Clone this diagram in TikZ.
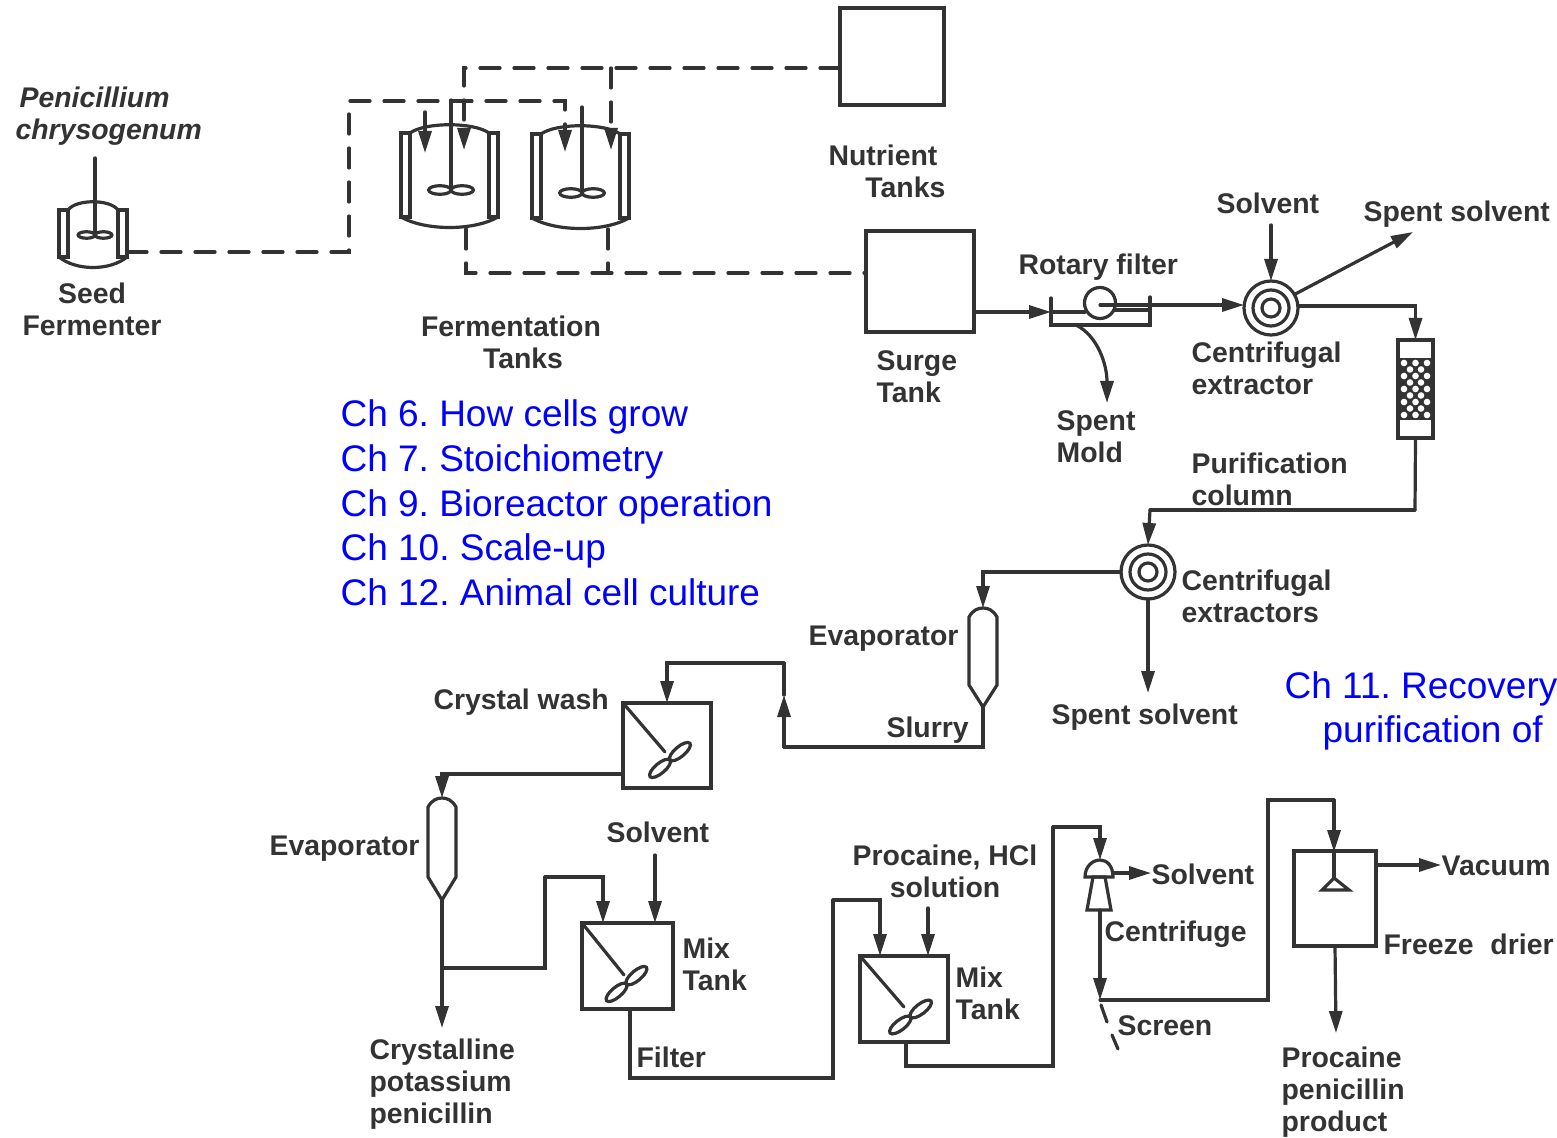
\documentclass[tikz,border=0pt]{standalone}
\usepackage{fontspec}
\setmainfont{Liberation Sans}
\usetikzlibrary{arrows.meta}
\definecolor{ink}{HTML}{333333}
\tikzset{
  lab/.style={font=\fontsize{14.2}{16}\selectfont\bfseries, text=ink, inner sep=0pt, anchor=west, align=left},
  chap/.style={font=\fontsize{18.5}{22.35}\selectfont, text=blue, inner sep=0pt, anchor=west, align=left},
  tankbox/.style={draw=ink, rectangle, outer sep=0pt, inner sep=0pt},
  ring/.style={draw=ink, circle, outer sep=0pt, inner sep=0pt, minimum size=27pt},
  flow/.style={-{Triangle[length=11pt,width=6.5pt]}},
  dashline/.style={dash pattern=on 10pt off 7pt},
  propeller/.pic={
    \draw (-13,0) ellipse [x radius=13, y radius=5];
    \draw (13,0) ellipse [x radius=13, y radius=5];
  }
}
% jacketed vessel: centre x, top, bottom, half width
\newcommand{\fermenter}[4]{
  \draw (#1-#4,#2) rectangle (#1-#4+9,#3);
  \draw (#1+#4-9,#2) rectangle (#1+#4,#3);
  \draw (#1-#4+9,#2) .. controls (#1-#4/2,#2-11) and (#1+#4/2,#2-11) .. (#1+#4-9,#2);
  \draw (#1-#4,#3) .. controls (#1-#4/2,#3+14) and (#1+#4/2,#3+14) .. (#1+#4,#3);
}
% evaporator outline: centre x, top, end of wall, tip
\newcommand{\evaporator}[4]{
  \draw (#1-14,#2+9) .. controls (#1-10,#2+2) and (#1-5,#2) .. (#1,#2)
     .. controls (#1+5,#2) and (#1+10,#2+2) .. (#1+14,#2+9)
     -- (#1+14,#3) -- (#1,#4) -- (#1-14,#3) -- cycle;
}
\frenchspacing
\begin{document}
\begin{tikzpicture}[x=0.5pt, y=-0.5pt, line width=1.6pt, line cap=round, draw=ink]
  \useasboundingbox (0,0) rectangle (1557,1138);

  % seed and fermentation vessels
  \fermenter{93}{210}{257}{34}
  \fermenter{449.5}{133}{217}{48.5}
  \fermenter{580.5}{134}{218}{48.5}
  \coordinate (seedtop) at (95,158);
  \coordinate (seedimp) at (95,235);
  \coordinate (seedout) at (127,252);
  \coordinate (tankashaft) at (451,100);
  \coordinate (tankaimp) at (451,190);
  \coordinate (tankbshaft) at (582,107);
  \coordinate (tankbimp) at (582,193);
  \draw (seedtop) -- (seedimp);
  \draw (tankashaft) -- (tankaimp);
  \draw (tankbshaft) -- (tankbimp);
  \pic[scale=.65] at (seedimp) {propeller};
  \pic[scale=.86] at (tankaimp) {propeller};
  \pic[scale=.86] at (tankbimp) {propeller};
  \coordinate (tankain) at (425,112);
  \coordinate (tankaintip) at (425,153);
  \draw[flow] (tankain) -- (tankaintip);

  % nutrient and surge tanks
  \node[tankbox, minimum width=52pt, minimum height=48.5pt] (nutrient) at (892,56.5) {};
  \node[tankbox, minimum width=54pt, minimum height=50.5pt] (surge) at (920,281.5) {};

  % dashed feed lines
  \coordinate (seedturn) at (349,252);
  \coordinate (feedturn) at (349,101);
  \coordinate (feedtip) at (565,152);
  \draw[dashline, flow] (seedout) -- (seedturn) -- (feedturn) -| (feedtip);
  \coordinate (nutout) at (840,68);
  \coordinate (nutturna) at (464,68);
  \coordinate (nuttipa) at (464,150);
  \coordinate (nutturnb) at (611,68);
  \coordinate (nuttipb) at (611,150);
  \draw[dashline, flow] (nutout) -- (nutturna) -- (nuttipa);
  \draw[dashline, flow] (nutturnb) -- (nuttipb);
  \coordinate (tankaout) at (466,229);
  \coordinate (tankbout) at (608,229);
  \coordinate (drainb) at (608,273);
  \coordinate (surgein) at (866,273);
  \draw[dashline] (tankaout) |- (surgein);
  \draw[dashline] (tankbout) -- (drainb);

  % rotary filter
  \coordinate (filtl) at (1051,298);
  \coordinate (filtlb) at (1051,325);
  \coordinate (filtrb) at (1150,325);
  \coordinate (filtr) at (1150,297);
  \draw (filtl) -- (filtlb) -- (filtrb) -- (filtr);
  \node[ring, minimum size=15.5pt, fill=white] (drum) at (1100,303) {};
  \coordinate (filtin) at (1051,312);
  \coordinate (surgeout) at (974,312);
  \coordinate (drumin) at (1085,312);
  \coordinate (drumout) at (1115,310);
  \coordinate (drumc) at (1100,305);
  \draw[flow] (surgeout) -- (filtin);
  \draw (filtin) -- (drumin);
  \draw (drumout) -- (filtr |- drumout);

  % first extractor and column
  \node[ring] (extra) at (1271,308) {};
  \node[ring, minimum size=18pt] (extram) at (extra) {};
  \node[ring, minimum size=9pt] (extrac) at (extra) {};
  \draw[flow] (drumc) -- (extra.west |- drumc);
  \coordinate (solvin) at (1271,225);
  \draw[flow] (solvin) -- (extra.north);
  \coordinate (spenttip) at (1413,232);
  \draw[flow] (extra.30) -- (spenttip);
  \node[tankbox, minimum width=17.5pt, minimum height=49pt] (column) at (1415.5,389) {};
  \fill[ink] (1398,358) rectangle (1433,420);
  \foreach \row in {0,...,8} {
    \pgfmathsetmacro{\rowy}{363+\row*6.5}
    \ifodd\row
      \foreach \dotx in {1410,1421} \fill[white] (\dotx,\rowy) circle [radius=3.3];
    \else
      \foreach \dotx in {1404,1415.5,1427} \fill[white] (\dotx,\rowy) circle [radius=3.3];
    \fi
  }
  \coordinate (extraout) at (1298,306);
  \draw[flow] (extraout) -| (column.north);
  \coordinate (moldout) at (1076,325);
  \coordinate (moldtip) at (1107,403);
  \draw[flow] (moldout) .. controls (1098,336) and (1107,365) .. (moldtip);

  % second extractor
  \node[ring] (extrb) at (1148,572) {};
  \node[ring, minimum size=18pt] (extrbm) at (extrb) {};
  \node[ring, minimum size=9pt] (extrbc) at (extrb) {};
  \coordinate (colturn) at (1415,510);
  \draw (column.south) -- (colturn);
  \coordinate (coljoin) at (1150,510);
  \draw (colturn) -- (coljoin);
  \draw[flow] (coljoin) -- (extrb.north);
  \coordinate (spentbtip) at (1148,693);
  \draw[flow] (extrb.south) -- (spentbtip);

  % upper evaporator and crystal wash
  \evaporator{983}{608}{685}{707}
  \coordinate (evapain) at (983,608);
  \coordinate (evapaout) at (983,707);
  \draw[flow] (extrb.west) -| (evapain);
  \node[tankbox, minimum width=44pt, minimum height=42.5pt] (washtank) at (667,745.5) {};
  \coordinate (slurrycorner) at (983,747);
  \coordinate (washrise) at (784,747);
  \coordinate (washmid) at (784,695);
  \coordinate (washtop) at (784,663);
  \draw (evapaout) -- (slurrycorner) -- (washrise);
  \draw[flow] (washrise) -- (washmid);
  \draw (washmid) -- (washtop);
  \draw[flow] (washtop) -| (washtank.north);
  \coordinate (washimp) at (665,752);
  \draw (washtank.north west) -- (washimp);
  \pic[rotate=40] at (670,760) {propeller};

  % lower evaporator and first mix tank
  \evaporator{442}{798}{877}{900}
  \coordinate (evapbin) at (442,798);
  \coordinate (evapbout) at (442,900);
  \coordinate (washout) at (623,774);
  \draw[flow] (washout) -| (evapbin);
  \coordinate (crystip) at (442,1028);
  \draw[flow] (evapbout) -- (crystip);
  \node[tankbox, minimum width=45.5pt, minimum height=43pt] (mixa) at (627.5,966) {};
  \coordinate (brancha) at (442,968);
  \coordinate (branchb) at (545,968);
  \coordinate (branchc) at (545,877);
  \coordinate (mixain) at (603,923);
  \draw (brancha) -- (branchb) -- (branchc);
  \draw[flow] (branchc) -| (mixain);
  \coordinate (solvb) at (655,855);
  \coordinate (solvbtip) at (655,923);
  \draw[flow] (solvb) -- (solvbtip);
  \coordinate (mixaimp) at (624,975);
  \draw (mixa.north west) -- (mixaimp);
  \pic[rotate=40] at (626.5,984) {propeller};

  % second mix tank
  \node[tankbox, minimum width=44pt, minimum height=43pt] (mixb) at (904,999) {};
  \coordinate (mixaout) at (630,1009);
  \coordinate (filtcorner) at (630,1078);
  \coordinate (filtrise) at (833,1078);
  \coordinate (filttop) at (833,900);
  \coordinate (mixbin) at (880,956);
  \draw (mixaout) -- (filtcorner) -- (filtrise) -- (filttop);
  \draw[flow] (filttop) -| (mixbin);
  \coordinate (hcl) at (928,908);
  \coordinate (hcltip) at (928,956);
  \draw[flow] (hcl) -- (hcltip);
  \coordinate (mixbimp) at (904,1007);
  \draw (mixb.north west) -- (mixbimp);
  \pic[rotate=38] at (910.5,1017) {propeller};

  % centrifuge and screen
  \coordinate (mixbout) at (906,1042);
  \coordinate (mixbcorner) at (906,1066);
  \coordinate (mixbrise) at (1053,1066);
  \coordinate (mixbtop) at (1053,827);
  \coordinate (centin) at (1100,860);
  \draw (mixbout) -- (mixbcorner) -- (mixbrise) -- (mixbtop);
  \draw[flow] (mixbtop) -| (centin);
  \draw (1085,877) .. controls (1085,866) and (1093,860) .. (centin)
     .. controls (1107,860) and (1113,866) .. (1113,877) -- cycle;
  \draw (1093,877) -- (1105,877) -- (1111,910) -- (1087,910) -- cycle;
  \coordinate (centout) at (1113,873);
  \coordinate (centsolv) at (1151,873);
  \draw[flow] (centout) -- (centsolv);
  \coordinate (centbot) at (1100,910);
  \coordinate (screentop) at (1100,1000);
  \draw[flow] (centbot) -- (screentop);
  \draw (1101,1005) -- (1107,1022);
  \draw (1112,1035) -- (1118,1049);

  % freeze drier
  \node[tankbox, minimum width=41pt, minimum height=47.5pt] (drier) at (1335,898.5) {};
  \coordinate (scrcorner) at (1268,1000);
  \coordinate (scrtop) at (1268,800);
  \coordinate (scrturn) at (1334,800);
  \coordinate (sprayin) at (1334,852);
  \coordinate (spray) at (1334,878);
  \draw (screentop) -- (scrcorner) -- (scrtop) -- (scrturn);
  \draw[flow] (scrturn) -- (sprayin);
  \draw (sprayin) -- (spray);
  \draw (spray) -- (1349,890) -- (1322,890) -- cycle;
  \coordinate (vacout) at (1376,865);
  \coordinate (vactip) at (1441,865);
  \draw[flow] (vacout) -- (vactip);
  \coordinate (prodtip) at (1336,1033);
  \draw[flow] (drier.south) -- (prodtip);

  % labels
  \node[lab, font=\fontsize{14.2}{16}\selectfont\bfseries\itshape] (penlab) at (14,116) {\hspace*{2pt}Penicillium\\chrysogenum};
  \node[lab, align=center, anchor=center] (seedlab) at (92,309) {Seed\\Fermenter};
  \node[lab, align=center, anchor=center] (fermlab) at (511,342) {Fermentation\\\hspace*{12pt}Tanks};
  \node[lab, align=right, anchor=east] (nutlab) at (947,171) {Nutrient\hspace*{4pt}\\Tanks};
  \node[lab] (surgelab) at (875,377) {Surge\\Tank};
  \node[lab] (rotlab) at (1017,267) {Rotary filter};
  \node[lab] (solvlab) at (1215,203) {Solvent};
  \node[lab] (spentlab) at (1362,214) {Spent solvent};
  \node[lab] (extralab) at (1190,368) {Centrifugal\\extractor};
  \node[lab] (moldlab) at (1055,437) {Spent\\Mold};
  \node[lab] (purlab) at (1190,479) {Purification\\column};
  \node[lab] (extrblab) at (1180,596) {Centrifugal\\extractors};
  \node[lab] (evapalab) at (807,639) {Evaporator};
  \node[lab] (slurlab) at (885,730) {Slurry};
  \node[lab] (spentblab) at (1050,717) {Spent solvent};
  \node[lab] (washlab) at (432,702) {Crystal wash};
  \node[lab] (evapblab) at (268,849) {Evaporator};
  \node[lab] (solvblab) at (605,832) {Solvent};
  \node[lab] (mixalab) at (681,964) {Mix\\Tank};
  \node[lab] (filtlab) at (635,1057) {Filter};
  \node[lab] (cryslab) at (368,1084) {Crystalline\\potassium\\penicillin};
  \node[lab, align=center, anchor=center] (hcllab) at (945,871) {Procaine, HCl\\solution};
  \node[lab] (centsolvlab) at (1150,874) {Solvent};
  \node[lab] (centlab) at (1103,934) {Centrifuge};
  \node[lab] (mixblab) at (954,993) {Mix\\Tank};
  \node[lab] (scrlab) at (1116,1026) {Screen};
  \node[lab] (vaclab) at (1440,866) {Vacuum};
  \node[lab] (drierlab) at (1382,944) {Freeze\hspace{4.5pt} drier};
  \node[lab] (prodlab) at (1280,1092) {Procaine\\penicillin\\product};

  % chapter notes
  \node[chap] (chaplist) at (339,503) {Ch 6. How cells grow\\Ch 7. Stoichiometry\\Ch 9. Bioreactor operation\\Ch 10. Scale-up\\Ch 12. Animal cell culture};
  \node[chap] (chaprec) at (1283,711) {Ch 11. Recovery\\\hspace*{19pt}purification of};
\end{tikzpicture}
\end{document}
